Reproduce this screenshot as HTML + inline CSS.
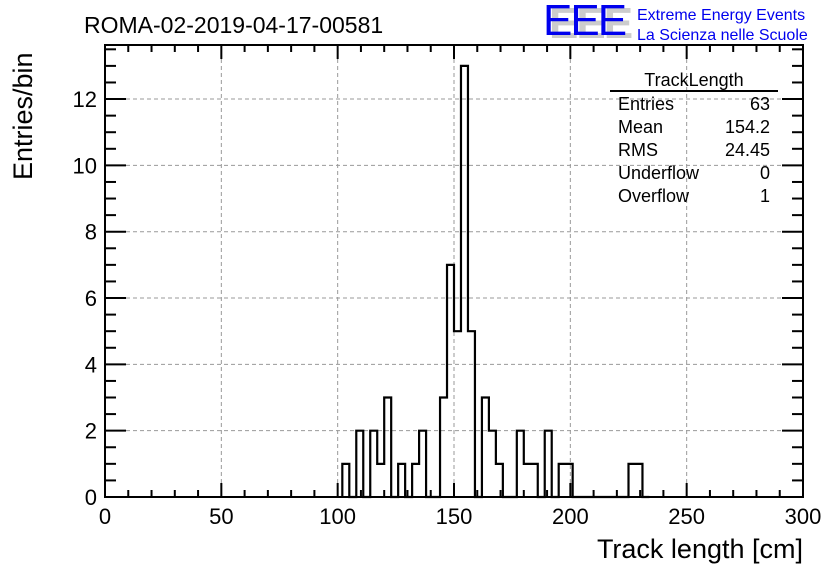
<!DOCTYPE html>
<html><head><meta charset="utf-8"><style>
body{margin:0;background:#fff;}
svg text{font-family:"Liberation Sans",sans-serif;}
</style></head><body>
<svg id="chart" width="836" height="572" viewBox="0 0 836 572" xmlns="http://www.w3.org/2000/svg">
<rect width="836" height="572" fill="#fff"/>
<g id="grid"></g>
<g id="hist"></g>
<g id="axes"></g>
<text x="84" y="33" font-size="23">ROMA-02-2019-04-17-00581</text>
<g>
<text x="549" y="38" font-size="44" fill="#ccc" font-weight="bold" letter-spacing="-2">EEE</text>
<text x="543" y="35" font-size="44" fill="#0000ee" letter-spacing="-2">EEE</text>
<text x="637" y="20" font-size="16" fill="#0000ee">Extreme Energy Events</text>
<text x="637" y="40" font-size="16" fill="#0000ee">La Scienza nelle Scuole</text>
</g>
<g font-size="18">
<text x="694" y="86" text-anchor="middle">TrackLength</text>
<line x1="610" y1="91" x2="778" y2="91" stroke="#000" stroke-width="2"/>
<text x="618" y="110">Entries</text><text x="770" y="110" text-anchor="end">63</text>
<text x="618" y="133">Mean</text><text x="770" y="133" text-anchor="end">154.2</text>
<text x="618" y="156">RMS</text><text x="770" y="156" text-anchor="end">24.45</text>
<text x="618" y="179">Underflow</text><text x="770" y="179" text-anchor="end">0</text>
<text x="618" y="202">Overflow</text><text x="770" y="202" text-anchor="end">1</text>
</g>
<text x="803" y="558" font-size="27" text-anchor="end">Track length [cm]</text>
<text transform="translate(32,180) rotate(-90)" font-size="27" text-anchor="start">Entries/bin</text>
</svg>
<script>
const binEdgesStart = [102,105,108,111,114,117,120,123,126,129,132,135,138,141,144,147,150,153,156,159,162,165,168,171,174,177,180,183,186,189,192,195,198,201,222,225,228,231];
const binCounts =     [1,  0,  2,  0,  2,  1,  3,  0,  1,  0,  1,  2,  0,  0,  3,  7,  5,  13, 5,  0,  3,  2,  1,  0,  0,  2,  1,  1,  0,  2,  0,  1,  1,  0,  0,  1,  1,  0];
const binWidth = 3;
const xTicks = [0,50,100,150,200,250,300];
const yTicks = [0,2,4,6,8,10,12];
const X0=105,X1=803,Y0=497,Y1=45;
const xMin=0,xMax=300,yMin=0,yMax=13.63;
const sx=v=>X0+(v-xMin)/(xMax-xMin)*(X1-X0);
const sy=v=>Y0-(v-yMin)/(yMax-yMin)*(Y0-Y1);
const NS="http://www.w3.org/2000/svg";
function mk(tag,attrs,parent){const e=document.createElementNS(NS,tag);for(const k in attrs)e.setAttribute(k,attrs[k]);parent.appendChild(e);return e;}
const grid=document.getElementById('grid'),axes=document.getElementById('axes'),hist=document.getElementById('hist');
xTicks.forEach(t=>{if(t>xMin&&t<xMax){const l=mk('line',{x1:sx(t),x2:sx(t),y1:Y0,y2:Y1,stroke:'#999','stroke-dasharray':'4,3','stroke-width':1},grid);

}});
yTicks.forEach(t=>{if(t>yMin){const l=mk('line',{x1:X0,x2:X1,y1:sy(t),y2:sy(t),stroke:'#999','stroke-dasharray':'4,3','stroke-width':1},grid);

}});
let d='M'+sx(binEdgesStart[0])+','+sy(0);
binCounts.forEach((c,i)=>{const a=sx(binEdgesStart[i]),b=sx(binEdgesStart[i]+binWidth);d+=' L'+a+','+sy(c)+' L'+b+','+sy(c);});
d+=' L'+sx(binEdgesStart[binEdgesStart.length-1]+binWidth)+','+sy(0);
const p=mk('path',{d:d,fill:'none',stroke:'#000','stroke-width':2.2},hist);


const fr=mk('rect',{x:X0,y:Y1,width:X1-X0,height:Y0-Y1,fill:'none',stroke:'#000','stroke-width':2},axes);


for(let v=0;v<=300;v+=10){const len=(v%50===0)?14:7;
mk('line',{x1:sx(v),x2:sx(v),y1:Y0,y2:Y0-len,stroke:'#000','stroke-width':2},axes);
mk('line',{x1:sx(v),x2:sx(v),y1:Y1,y2:Y1+len,stroke:'#000','stroke-width':2},axes);}
for(let v=0;v<=13.5;v+=0.5){const len=(Math.abs(v%2)<1e-6)?21:11;
mk('line',{x1:X0,x2:X0+len,y1:sy(v),y2:sy(v),stroke:'#000','stroke-width':2},axes);
mk('line',{x1:X1,x2:X1-len,y1:sy(v),y2:sy(v),stroke:'#000','stroke-width':2},axes);}
xTicks.forEach(t=>{const e=mk('text',{x:sx(t),y:Y0+27,'font-size':22,'text-anchor':'middle'},axes);e.textContent=t;

});
yTicks.forEach(t=>{const e=mk('text',{x:X0-8,y:sy(t)+8,'font-size':22,'text-anchor':'end'},axes);e.textContent=t;

});
</script>
</body></html>
